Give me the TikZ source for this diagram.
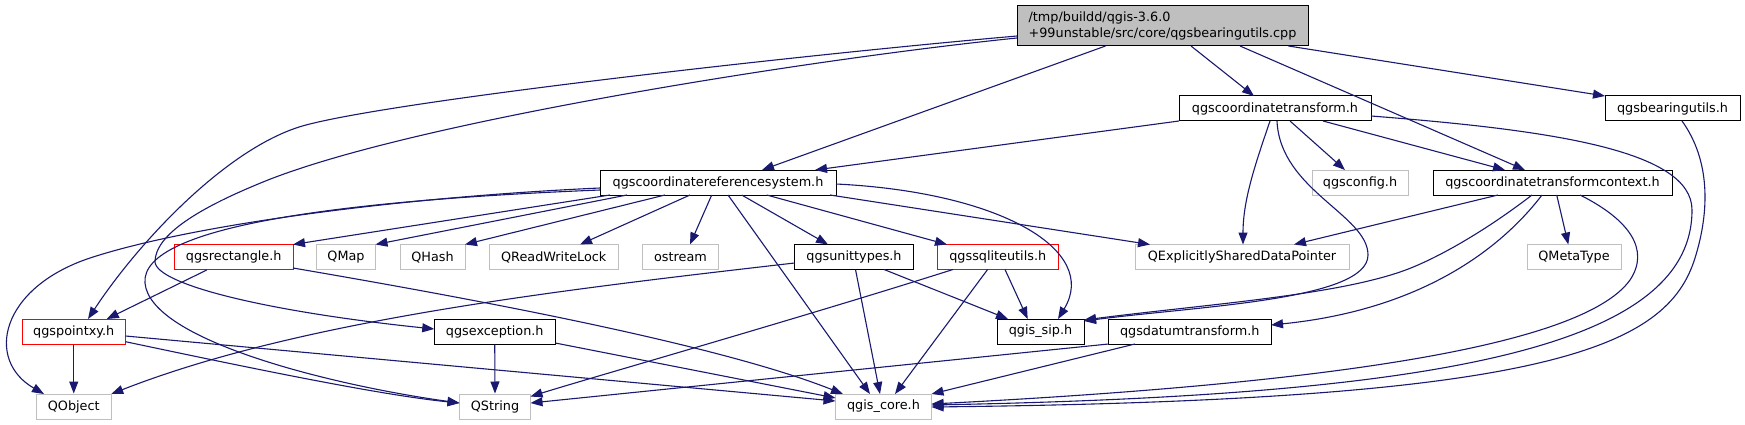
\documentclass[tikz,border=0pt]{standalone}
\usepackage{fontspec}
\setmainfont{DejaVu Sans}
\usetikzlibrary{arrows.meta}
\definecolor{edgec}{HTML}{191970}
\definecolor{grayb}{HTML}{BFBFBF}
\begin{document}
\begin{tikzpicture}[x=1pt,y=-1pt,
 box/.style={draw=black, line width=1pt, rectangle, inner sep=0pt, minimum height=25pt, font=\fontsize{12.8}{16}\selectfont, text=black},
 graybox/.style={box, draw=grayb},
 redbox/.style={box, draw=red},
 dep/.style={draw=edgec, line width=1.1pt, -{Triangle[length=12pt,width=9pt]}},
]
\fill[white] (0,0) rectangle (1745,425);
\useasboundingbox (0,0) rectangle (1745,425);

% nodes
\node[box, fill=grayb, minimum width=291pt, minimum height=40pt, align=left] (main) at (1162.5,26) {/tmp/buildd/qgis-3.6.0\\+99unstable/src/core/qgsbearingutils.cpp};
\node[box, minimum width=192pt] (ct) at (1275,108.5) {qgscoordinatetransform.h};
\node[box, minimum width=135pt] (bu) at (1672.5,108.5) {qgsbearingutils.h};
\node[box, minimum width=236pt] (crs) at (718,182.5) {qgscoordinatereferencesystem.h};
\node[graybox, minimum width=96pt] (cfg) at (1360,182.5) {qgsconfig.h};
\node[box, minimum width=239pt] (ctc) at (1552.5,182.5) {qgscoordinatetransformcontext.h};
\node[redbox, minimum width=118.5pt] (rect) at (233.75,257) {qgsrectangle.h};
\node[graybox, minimum width=59pt] (qmap) at (346,257) {QMap};
\node[graybox, minimum width=65pt] (qhash) at (432.5,257) {QHash};
\node[graybox, minimum width=128.5pt] (qrwl) at (553.75,257) {QReadWriteLock};
\node[graybox, minimum width=76pt] (ostream) at (680.5,257) {ostream};
\node[box, minimum width=119pt] (unit) at (854,257) {qgsunittypes.h};
\node[redbox, minimum width=121.5pt] (sqlite) at (997.75,257) {qgssqliteutils.h};
\node[graybox, minimum width=214pt] (qesdp) at (1242,257) {QExplicitlySharedDataPointer};
\node[graybox, minimum width=94pt] (qmeta) at (1574,257) {QMetaType};
\node[redbox, minimum width=103.5pt] (pointxy) at (73.75,331.5) {qgspointxy.h};
\node[box, minimum width=121pt] (exc) at (494.75,331.5) {qgsexception.h};
\node[box, minimum width=87pt] (sip) at (1040.5,331.5) {qgis\_sip.h};
\node[box, minimum width=162.5pt] (dt) at (1189.75,331.5) {qgsdatumtransform.h};
\node[graybox, minimum width=75pt] (qobject) at (73.75,406.5) {QObject};
\node[graybox, minimum width=71pt] (qstring) at (495,406.5) {QString};
\node[graybox, minimum width=96pt] (core) at (883.5,406.5) {qgis\_core.h};

% edges from main
\draw[dep] ([shift={(-57,20)}]main.center) -- ([shift={(44,-12.5)}]crs.center);
\draw[dep] ([shift={(28.5,20)}]main.center) -- ([shift={(-21,-12.5)}]ct.center);
\draw[dep] ([shift={(77.5,20)}]main.center) -- ([shift={(-27.5,-12.5)}]ctc.center);
\draw[dep] ([shift={(126,20)}]main.center) -- ([shift={(-67.5,-12.5)}]bu.center);
\draw[dep] ([shift={(-145.5,10)}]main.center) .. controls (800,55) and (400,100) .. (306,125) .. controls (230,145) and (140,240) .. ([shift={(14.25,-12.5)}]pointxy.center);
\draw[dep] ([shift={(-145.5,12)}]main.center) .. controls (820,58) and (420,120) .. (268,180) .. controls (198,208) and (155,235) .. (155,262) .. controls (157,285) and (270,312) .. ([shift={(-60.5,-2.5)}]exc.center);

% edges from crs
\draw[dep] ([shift={(-118,5.5)}]crs.center) .. controls (420,196) and (200,222) .. (90,258) .. controls (0,288) and (-15,360) .. ([shift={(-29.75,-12.5)}]qobject.center);
\draw[dep] ([shift={(-118,7.5)}]crs.center) .. controls (350,200) and (140,225) .. (145,283) .. controls (150,340) and (330,385) .. ([shift={(-35.5,-3.5)}]qstring.center);
\draw[dep] ([shift={(-108,12.5)}]crs.center) -- ([shift={(59.25,-12.5)}]rect.center);
\draw[dep] ([shift={(-91,12.5)}]crs.center) -- ([shift={(29.5,-12.5)}]qmap.center);
\draw[dep] ([shift={(-53,12.5)}]crs.center) -- ([shift={(32.5,-12.5)}]qhash.center);
\draw[dep] ([shift={(-28,12.5)}]crs.center) -- ([shift={(26.25,-12.5)}]qrwl.center);
\draw[dep] ([shift={(-6.3,12.5)}]crs.center) -- ([shift={(9.5,-12.5)}]ostream.center);
\draw[dep] ([shift={(10,12.5)}]crs.center) -- ([shift={(-13.5,-12.5)}]core.center);
\draw[dep] ([shift={(23.7,12.5)}]crs.center) -- ([shift={(-26,-12.5)}]unit.center);
\draw[dep] ([shift={(48.7,12.5)}]crs.center) -- ([shift={(-50.75,-12.5)}]sqlite.center);
\draw[dep] ([shift={(112,12.5)}]crs.center) -- ([shift={(-92,-12.5)}]qesdp.center);
\draw[dep] ([shift={(118,1.5)}]crs.center) .. controls (1000,192) and (1100,250) .. ([shift={(17.5,-12.5)}]sip.center);

% edges from ct
\draw[dep] ([shift={(-96,12.5)}]ct.center) -- ([shift={(97,-12.5)}]crs.center);
\draw[dep] ([shift={(-5,12.5)}]ct.center) .. controls (1255,165) and (1243,200) .. ([shift={(1,-12.5)}]qesdp.center);
\draw[dep] ([shift={(2,12.5)}]ct.center) .. controls (1280,190) and (1368,215) .. (1368,255) .. controls (1368,300) and (1200,306) .. ([shift={(43.5,-10.5)}]sip.center);
\draw[dep] ([shift={(15,12.5)}]ct.center) -- ([shift={(-15,-12.5)}]cfg.center);
\draw[dep] ([shift={(48,12.5)}]ct.center) -- ([shift={(-47.5,-12.5)}]ctc.center);
\draw[dep] ([shift={(96,7.5)}]ct.center) .. controls (1550,130) and (1692,150) .. (1692,210) .. controls (1692,345) and (1450,395) .. ([shift={(48,-1.5)}]core.center);

% edge from bu
\draw[dep] ([shift={(9.5,12.5)}]bu.center) .. controls (1710,160) and (1710,210) .. (1695,258) .. controls (1667,348) and (1550,400) .. ([shift={(48,0.5)}]core.center);

% edges from ctc
\draw[dep] ([shift={(-54.5,12.5)}]ctc.center) -- ([shift={(52,-12.5)}]qesdp.center);
\draw[dep] ([shift={(-20.5,12.5)}]ctc.center) .. controls (1480,235) and (1430,262) .. (1400,272) .. controls (1330,296) and (1200,305) .. ([shift={(43.5,-11.5)}]sip.center);
\draw[dep] ([shift={(-10.5,12.5)}]ctc.center) .. controls (1500,250) and (1420,310) .. ([shift={(81.25,-6.5)}]dt.center);
\draw[dep] ([shift={(4.2,12.5)}]ctc.center) -- ([shift={(-5.7,-12.5)}]qmeta.center);
\draw[dep] ([shift={(27.5,12.5)}]ctc.center) .. controls (1630,220) and (1650,250) .. (1630,280) .. controls (1580,350) and (1300,385) .. ([shift={(48,-2.5)}]core.center);

% edges from dt
\draw[dep] ([shift={(-81.25,12.5)}]dt.center) -- ([shift={(35.5,-3.5)}]qstring.center);
\draw[dep] ([shift={(-54.75,12.5)}]dt.center) -- ([shift={(48,-12.5)}]core.center);

% edges from rect
\draw[dep] ([shift={(-27,13)}]rect.center) -- ([shift={(33,-12.5)}]pointxy.center);
\draw[dep] ([shift={(59.25,11)}]rect.center) .. controls (480,300) and (720,345) .. ([shift={(-40.5,-12.5)}]core.center);

% edges from unit
\draw[dep] ([shift={(-59.5,6)}]unit.center) .. controls (560,290) and (300,320) .. ([shift={(37.5,-12.5)}]qobject.center);
\draw[dep] ([shift={(1.5,12.5)}]unit.center) -- ([shift={(-3.5,-12.5)}]core.center);
\draw[dep] ([shift={(30,12.5)}]unit.center) -- ([shift={(-32.5,-12.5)}]sip.center);

% edges from sqlite
\draw[dep] ([shift={(-44.75,12.5)}]sqlite.center) .. controls (800,318) and (600,375) .. ([shift={(35.5,-10)}]qstring.center);
\draw[dep] ([shift={(7.25,12.5)}]sqlite.center) -- ([shift={(-12.8,-12.5)}]sip.center);
\draw[dep] ([shift={(-10.15,12.5)}]sqlite.center) -- ([shift={(11.5,-12.5)}]core.center);

% edges from pointxy
\draw[dep] (pointxy.south) -- (qobject.north);
\draw[dep] ([shift={(51.75,10.2)}]pointxy.center) .. controls (250,368) and (380,395) .. ([shift={(-35.5,-3.5)}]qstring.center);
\draw[dep] ([shift={(51.75,4.5)}]pointxy.center) -- ([shift={(-48,-5.5)}]core.center);

% edges from exc
\draw[dep] (exc.south) -- (qstring.north);
\draw[dep] ([shift={(60.5,11.5)}]exc.center) -- ([shift={(-48,-8.5)}]core.center);
\end{tikzpicture}
\end{document}
